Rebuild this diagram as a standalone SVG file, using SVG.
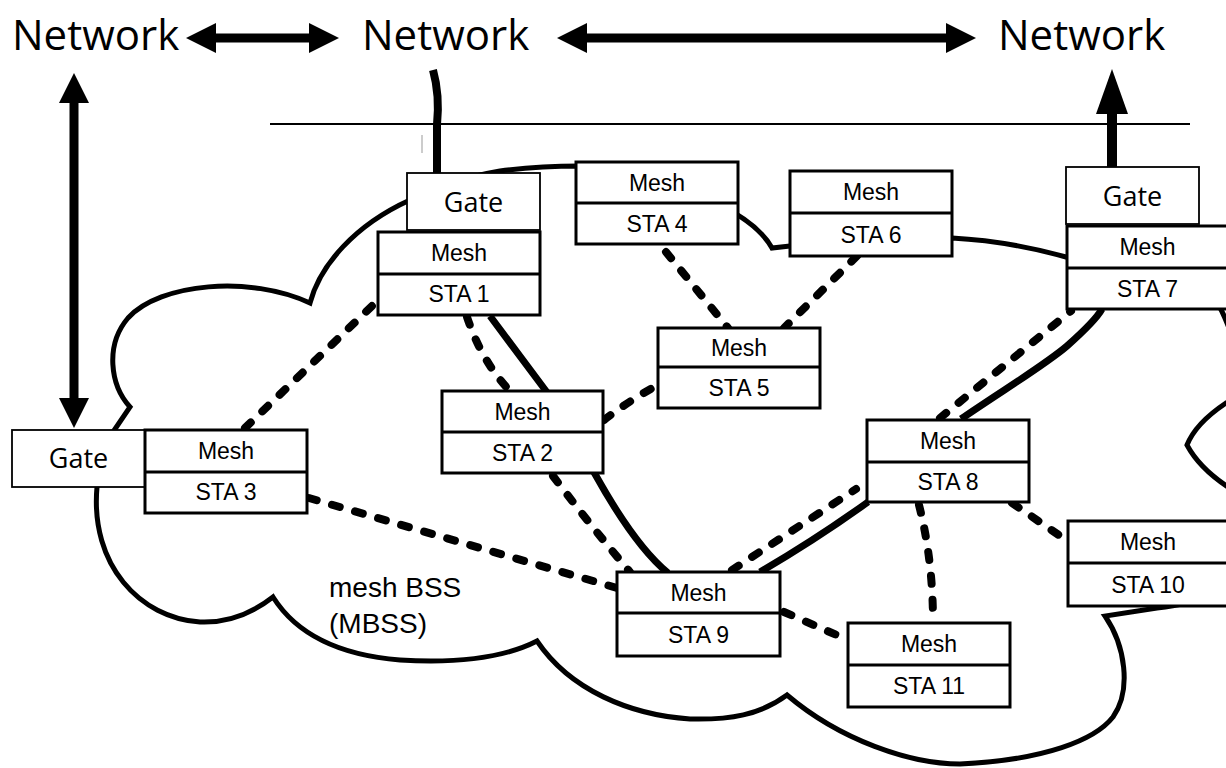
<svg xmlns="http://www.w3.org/2000/svg" width="1226" height="768" viewBox="0 0 1226 768">
<defs>
<marker id="ah" viewBox="0 0 30 30" refX="0" refY="15" markerWidth="30" markerHeight="30" markerUnits="userSpaceOnUse" orient="auto-start-reverse"><polygon points="0,0 30,15 0,30" fill="#000"/></marker>
<marker id="ahl" viewBox="0 0 45 32" refX="0" refY="16" markerWidth="45" markerHeight="32" markerUnits="userSpaceOnUse" orient="auto"><polygon points="0,0 45,16 0,32" fill="#000"/></marker>
</defs>
<style>
.net{font-family:"Open Sans","Liberation Sans",sans-serif;font-size:42px;fill:#000}
.gt{font-family:"Open Sans","Liberation Sans",sans-serif;font-size:27px;fill:#000;text-anchor:middle}
.bt{font-family:"Liberation Sans",Arial,sans-serif;font-size:23px;fill:#000;text-anchor:middle}
.lbl{font-family:"Liberation Sans",Arial,sans-serif;font-size:28px;fill:#000}
.box{fill:#fff;stroke:#000;stroke-width:3}
.gbox{fill:#fff;stroke:#000;stroke-width:1.8}
.div{stroke:#000;stroke-width:3}
.cloud{fill:none;stroke:#000;stroke-width:5;stroke-linejoin:miter}
.solid{fill:none;stroke:#000;stroke-width:7}
.dash{fill:none;stroke:#000;stroke-width:8;stroke-dasharray:8 16;stroke-linecap:round}
.arr{fill:none;stroke:#000;stroke-width:9}
</style>
<rect width="1226" height="768" fill="#fff"/>
<g id="labels">
<text class="net" x="12" y="50">Network</text>
<text class="net" x="362" y="50">Network</text>
<text class="net" x="998" y="50">Network</text>
<text class="lbl" x="329" y="597">mesh BSS</text>
<text class="lbl" x="329" y="633">(MBSS)</text>
</g>
<g id="cloud">
<path class="cloud" d="M 113 432 L 130 407 C 110 385, 105 345, 128 318 C 160 283, 250 275, 310 303 C 320 265, 355 225, 410 200 C 440 186, 465 177, 500 171 C 530 167, 555 166, 580 166 L 720 205 C 740 215, 762 230, 772 248 L 790 246 L 952 238 C 990 240, 1030 247, 1066 257 L 1205 285 C 1215 295, 1228 320, 1240 360 C 1250 385, 1242 395, 1226 403 C 1208 415, 1193 430, 1187 445 C 1195 460, 1210 475, 1228 487 C 1250 510, 1250 560, 1215 590 C 1195 603, 1175 606, 1157 608 L 1105 616 C 1125 645, 1132 690, 1113 717 C 1095 740, 1045 760, 960 764 C 910 764, 840 740, 787 695 C 760 715, 730 720, 690 719 C 630 715, 570 690, 537 641 C 500 660, 450 663, 400 660 C 350 656, 300 640, 273 597 C 250 615, 225 623, 200 622 C 140 618, 90 565, 97 487 Z"/>
</g>
<g id="connectors">
<line x1="270" y1="124" x2="1190" y2="124" stroke="#000" stroke-width="2"/>
<line x1="422" y1="135" x2="422" y2="153" stroke="#bbb" stroke-width="1.5"/>
<line class="arr" x1="216" y1="38" x2="309" y2="38" marker-start="url(#ah)" marker-end="url(#ah)"/>
<line class="arr" x1="587" y1="38" x2="946" y2="38" marker-start="url(#ah)" marker-end="url(#ah)"/>
<line class="arr" x1="74" y1="103" x2="74" y2="398" marker-start="url(#ah)" marker-end="url(#ah)"/>
<line x1="1112" y1="168" x2="1112" y2="114" stroke="#000" stroke-width="10" marker-end="url(#ahl)"/>
<path d="M 433 70 Q 440 95 437 125 L 437 174" fill="none" stroke="#000" stroke-width="8"/>
<path class="solid" d="M 490 316 L 546 391 L 560 410 L 595 474 C 615 510, 640 550, 668 573"/>
<path class="solid" d="M 760 572 Q 815 540 868 502"/>
<path class="solid" d="M 961 419 C 1000 392, 1045 365, 1067 346 C 1085 330, 1097 318, 1102 309"/>
<path class="dash" d="M 245 428 L 373 305"/>
<path class="dash" d="M 467 317 Q 482 362 510 391"/>
<path class="dash" d="M 553 476 Q 590 525 630 572"/>
<path class="dash" d="M 604 420 Q 630 400 658 385"/>
<path class="dash" d="M 666 252 L 728 328"/>
<path class="dash" d="M 857 256 L 784 328"/>
<path class="dash" d="M 309 498 L 617 588"/>
<path class="dash" d="M 732 570 L 856 489"/>
<path class="dash" d="M 940 418 L 1071 311"/>
<path class="dash" d="M 919 505 Q 933 560 933 622"/>
<path class="dash" d="M 1012 503 L 1066 540"/>
<path class="dash" d="M 784 612 L 848 640"/>
</g>
<g id="gate1"><rect class="gbox" x="407" y="173" width="133" height="57"/><text class="gt" x="473.5" y="212">Gate</text></g>
<g id="gate3"><rect class="gbox" x="12" y="430" width="133" height="57"/><text class="gt" x="78.5" y="468">Gate</text></g>
<g id="gate7"><rect class="gbox" x="1066" y="167" width="133" height="57"/><text class="gt" x="1132.5" y="205.5">Gate</text></g>
<g id="sta1"><rect class="box" x="378" y="232" width="162" height="83"/><line class="div" x1="378" y1="274" x2="540" y2="274"/><text class="bt" x="459" y="261">Mesh</text><text class="bt" x="459" y="302">STA 1</text></g>
<g id="sta2"><rect class="box" x="442" y="391" width="161" height="82"/><line class="div" x1="442" y1="432" x2="603" y2="432"/><text class="bt" x="522.5" y="419.5">Mesh</text><text class="bt" x="522.5" y="460.5">STA 2</text></g>
<g id="sta3"><rect class="box" x="145" y="430" width="162" height="83"/><line class="div" x1="145" y1="472" x2="307" y2="472"/><text class="bt" x="226" y="459">Mesh</text><text class="bt" x="226" y="500">STA 3</text></g>
<g id="sta4"><rect class="box" x="576" y="162" width="162" height="82"/><line class="div" x1="576" y1="203" x2="738" y2="203"/><text class="bt" x="657" y="190.5">Mesh</text><text class="bt" x="657" y="231.5">STA 4</text></g>
<g id="sta5"><rect class="box" x="658" y="328" width="162" height="80"/><line class="div" x1="658" y1="367" x2="820" y2="367"/><text class="bt" x="739" y="355.5">Mesh</text><text class="bt" x="739" y="395.5">STA 5</text></g>
<g id="sta6"><rect class="box" x="790" y="171" width="162" height="85"/><line class="div" x1="790" y1="213" x2="952" y2="213"/><text class="bt" x="871" y="200">Mesh</text><text class="bt" x="871" y="242.5">STA 6</text></g>
<g id="sta7"><rect class="box" x="1067" y="226" width="161" height="83"/><line class="div" x1="1067" y1="268" x2="1228" y2="268"/><text class="bt" x="1147.5" y="255">Mesh</text><text class="bt" x="1147.5" y="296.5">STA 7</text></g>
<g id="sta8"><rect class="box" x="867" y="420" width="162" height="82"/><line class="div" x1="867" y1="462" x2="1029" y2="462"/><text class="bt" x="948" y="449">Mesh</text><text class="bt" x="948" y="490">STA 8</text></g>
<g id="sta9"><rect class="box" x="617" y="572" width="163" height="84"/><line class="div" x1="617" y1="613" x2="780" y2="613"/><text class="bt" x="698.5" y="600.5">Mesh</text><text class="bt" x="698.5" y="642.5">STA 9</text></g>
<g id="sta10"><rect class="box" x="1068" y="521" width="160" height="85"/><line class="div" x1="1068" y1="563" x2="1228" y2="563"/><text class="bt" x="1148" y="550">Mesh</text><text class="bt" x="1148" y="592.5">STA 10</text></g>
<g id="sta11"><rect class="box" x="848" y="623" width="162" height="84"/><line class="div" x1="848" y1="665" x2="1010" y2="665"/><text class="bt" x="929" y="652">Mesh</text><text class="bt" x="929" y="694">STA 11</text></g>
</svg>
